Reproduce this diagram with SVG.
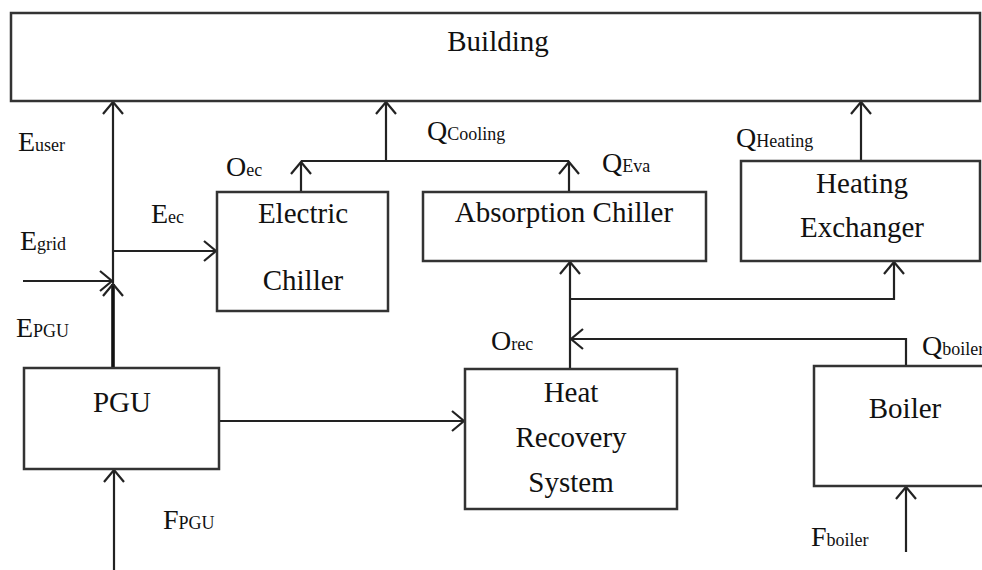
<svg xmlns="http://www.w3.org/2000/svg" width="982" height="570" viewBox="0 0 982 570">
<defs>
<marker id="arr" markerUnits="userSpaceOnUse" markerWidth="30" markerHeight="30" viewBox="-15 -15 30 30" refX="0" refY="0" orient="auto">
<path d="M -12 -10 L 0 0 L -12 10" fill="none" stroke="#222" stroke-width="2.2" stroke-linejoin="miter"/>
</marker>
<style>
.box{fill:#fff;stroke:#333;stroke-width:2.5}
.t{font-family:"Liberation Serif","Times New Roman",serif;font-size:29px;fill:#111;text-anchor:middle}
.l{font-family:"Liberation Serif","Times New Roman",serif;font-size:28px;fill:#111}
.s{font-size:18px}
.c{fill:none;stroke:#222;stroke-width:2.2}
.ca{fill:none;stroke:#222;stroke-width:2.2;marker-end:url(#arr)}
.thick{fill:none;stroke:#111;stroke-width:3.6;marker-end:url(#arr)}
</style>
</defs>
<rect width="982" height="570" fill="#fff"/>

<g id="connectors">
<line class="ca" x1="113" y1="283" x2="113" y2="102"/>
<line class="thick" x1="113" y1="368" x2="113" y2="284"/>
<line class="ca" x1="23" y1="281" x2="112" y2="281"/>
<line class="ca" x1="113" y1="251" x2="216" y2="251"/>
<line class="ca" x1="301" y1="191" x2="301" y2="162"/>
<line class="ca" x1="569" y1="191" x2="569" y2="162"/>
<line class="c" x1="301" y1="161" x2="569" y2="161"/>
<line class="ca" x1="386" y1="161" x2="386" y2="102"/>
<line class="ca" x1="861" y1="160" x2="861" y2="102"/>
<line class="ca" x1="570" y1="368" x2="570" y2="262"/>
<polyline class="ca" points="570,299 894,299 894,262"/>
<polyline class="ca" points="906,366 906,339 571,339"/>
<line class="ca" x1="219" y1="421" x2="464" y2="421"/>
<line class="ca" x1="114" y1="570" x2="114" y2="470"/>
<line class="ca" x1="906" y1="552" x2="906" y2="487"/>
</g>

<g id="building">
<rect class="box" x="11" y="13" width="969" height="88"/>
<text class="t" x="498" y="51">Building</text>
</g>
<g id="electric-chiller">
<rect class="box" x="217" y="192" width="171" height="119"/>
<text class="t" x="303" y="223">Electric</text>
<text class="t" x="303" y="290">Chiller</text>
</g>
<g id="absorption-chiller">
<rect class="box" x="423" y="192" width="283" height="69"/>
<text class="t" x="564" y="222">Absorption Chiller</text>
</g>
<g id="heating-exchanger">
<rect class="box" x="741" y="161" width="239" height="100"/>
<text class="t" x="862" y="193">Heating</text>
<text class="t" x="862" y="237">Exchanger</text>
</g>
<g id="pgu">
<rect class="box" x="24" y="368" width="195" height="101"/>
<text class="t" x="122" y="412">PGU</text>
</g>
<g id="heat-recovery-system">
<rect class="box" x="465" y="369" width="212" height="140"/>
<text class="t" x="571" y="402">Heat</text>
<text class="t" x="571" y="447">Recovery</text>
<text class="t" x="571" y="492">System</text>
</g>
<g id="boiler">
<rect class="box" x="814" y="366" width="180" height="120"/>
<text class="t" x="905" y="418">Boiler</text>
</g>

<g id="labels">
<text class="l" x="18" y="151">E<tspan class="s">user</tspan></text>
<text class="l" x="20" y="250">E<tspan class="s">grid</tspan></text>
<text class="l" x="16" y="337">E<tspan class="s">PGU</tspan></text>
<text class="l" x="151" y="223">E<tspan class="s">ec</tspan></text>
<text class="l" x="226" y="176">O<tspan class="s">ec</tspan></text>
<text class="l" x="427" y="140">Q<tspan class="s">Cooling</tspan></text>
<text class="l" x="602" y="172">Q<tspan class="s">Eva</tspan></text>
<text class="l" x="736" y="147">Q<tspan class="s">Heating</tspan></text>
<text class="l" x="491" y="350">O<tspan class="s">rec</tspan></text>
<text class="l" x="922" y="355">Q<tspan class="s">boiler</tspan></text>
<text class="l" x="163" y="529">F<tspan class="s">PGU</tspan></text>
<text class="l" x="811" y="546">F<tspan class="s">boiler</tspan></text>
</g>
</svg>
